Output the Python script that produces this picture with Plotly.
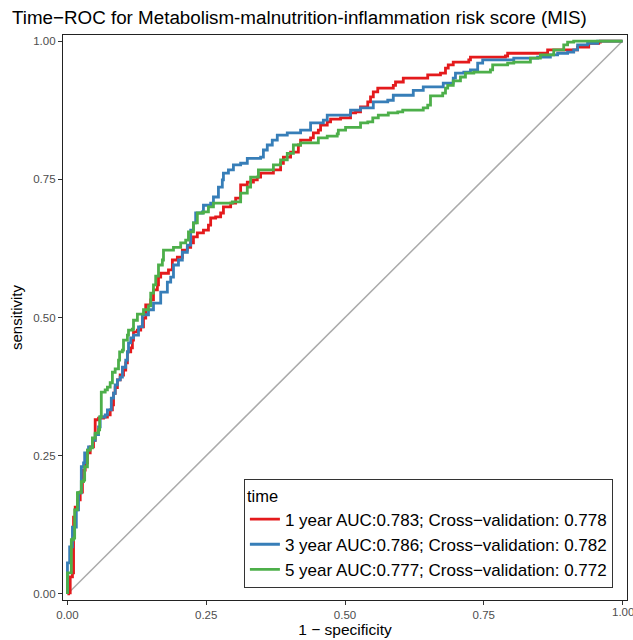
import plotly.graph_objects as go

# ---- data ----
labels = [
    "1 year AUC:0.783; Cross\u2212validation: 0.778",
    "3 year AUC:0.786; Cross\u2212validation: 0.782",
    "5 year AUC:0.777; Cross\u2212validation: 0.772",
]
colors = ["#E41A1C", "#377EB8", "#4DAF4A"]

fpr_1y = [0, .002, .005, .009, .011, .011, .014, .018, .023, .027,
          .027, .032, .036, .041, .047, .050, .056, .065, .072, .077,
          .081, .083, .086, .090, .095, .101, .105, .108, .114, .117,
          .119, .126, .132, .137, .141, .150, .155, .162, .164, .168,
          .182, .189, .198, .207, .216, .222, .227, .234, .245, .254,
          .258, .267, .276, .281, .294, .303, .312, .312, .321, .324,
          .335, .342, .348, .371, .384, .389, .402, .416, .420, .438,
          .443, .452, .456, .468, .474, .492, .510, .519, .528, .541,
          .546, .551, .559, .582, .587, .591, .604, .605, .645, .649,
          .672, .681, .686, .695, .723, .726, .789, .793, .861, .865,
          .915, .919, .937, .939, .957, .960, 1.0]
tpr_1y = [0, .002, .031, .038, .092, .139, .157, .170, .184, .193,
          .224, .237, .255, .266, .278, .315, .318, .320, .324, .333,
          .342, .363, .373, .387, .396, .405, .418, .438, .445, .459,
          .474, .477, .483, .499, .523, .532, .550, .559, .573, .580,
          .586, .604, .609, .622, .627, .635, .646, .653, .658, .667,
          .680, .682, .689, .700, .707, .716, .725, .740, .740, .745,
          .749, .754, .761, .767, .779, .790, .799, .812, .821, .825,
          .834, .839, .848, .854, .859, .861, .870, .872, .881, .890,
          .899, .908, .915, .915, .920, .926, .926, .933, .933, .939,
          .942, .951, .957, .962, .966, .971, .973, .978, .978, .984,
          .984, .989, .989, .996, .998, 1.0, 1.0]

fpr_3y = [0, 0, .004, .004, .009, .009, .016, .016, .020, .020,
          .025, .025, .029, .031, .036, .038, .045, .050, .056, .059,
          .068, .072, .077, .079, .083, .086, .090, .095, .099, .105,
          .108, .110, .114, .119, .128, .135, .146, .155, .168, .180,
          .186, .191, .200, .207, .216, .222, .227, .231, .243, .245,
          .258, .263, .272, .279, .281, .290, .299, .312, .324, .348,
          .353, .360, .369, .378, .396, .420, .438, .461, .468, .506,
          .510, .528, .551, .577, .587, .623, .641, .677, .695, .699,
          .714, .726, .739, .748, .793, .804, .847, .870, .883, .901,
          .912, .919, .937, .955, 1.0]
tpr_3y = [0, .056, .058, .085, .092, .121, .121, .152, .156, .183,
          .184, .230, .237, .255, .260, .266, .278, .288, .302, .320,
          .324, .333, .333, .354, .363, .378, .387, .392, .410, .423,
          .438, .454, .463, .468, .483, .505, .514, .526, .546, .564,
          .573, .595, .604, .618, .631, .658, .671, .689, .691, .703,
          .707, .718, .736, .749, .761, .767, .776, .779, .788, .790,
          .803, .812, .821, .830, .834, .839, .852, .857, .866, .866,
          .875, .879, .890, .893, .902, .911, .917, .924, .933, .942,
          .944, .948, .960, .966, .966, .969, .971, .975, .978, .980,
          .984, .993, .996, 1.0, 1.0]

fpr_5y = [0, 0, .005, .007, .011, .013, .018, .018, .023, .025,
          .029, .031, .036, .036, .041, .045, .050, .056, .058, .061,
          .061, .068, .072, .077, .081, .086, .092, .094, .099, .101,
          .108, .110, .117, .119, .126, .137, .146, .150, .155, .159,
          .164, .171, .173, .191, .204, .213, .218, .227, .234, .245,
          .254, .263, .297, .312, .324, .330, .344, .366, .371, .384,
          .396, .407, .420, .447, .452, .468, .486, .488, .501, .519,
          .528, .541, .550, .560, .578, .595, .604, .641, .649, .654,
          .676, .681, .685, .695, .708, .717, .732, .762, .766, .793,
          .804, .834, .852, .876, .894, .901, .912, 1.0]
tpr_5y = [0, .038, .038, .098, .101, .152, .156, .183, .184, .203,
          .206, .230, .233, .260, .264, .282, .291, .297, .320, .324,
          .365, .369, .374, .382, .401, .407, .423, .438, .441, .459,
          .468, .477, .479, .495, .506, .514, .521, .544, .559, .575,
          .595, .604, .622, .627, .635, .640, .655, .671, .689, .691,
          .700, .707, .709, .725, .736, .754, .767, .767, .776, .785,
          .797, .812, .816, .816, .825, .828, .832, .839, .844, .844,
          .852, .854, .861, .866, .870, .872, .875, .879, .884, .901,
          .906, .915, .920, .928, .935, .942, .944, .948, .957, .960,
          .962, .969, .975, .984, .993, .998, 1.0, 1.0]

diag = [0, 1]
ticks = [0, 0.25, 0.5, 0.75, 1.0]
tick_text = ["0.00", "0.25", "0.50", "0.75", "1.00"]

FONT = "Liberation Sans, Arial, sans-serif"
TICKFONT = dict(family=FONT, size=11.5, color="#4D4D4D")

fig = go.Figure()
fig.add_trace(go.Scatter(x=diag, y=diag, mode="lines",
                         line=dict(color="#ABABAB", width=1.5),
                         showlegend=False, hoverinfo="skip"))

series = [(fpr_1y, tpr_1y), (fpr_3y, tpr_3y), (fpr_5y, tpr_5y)]
for i, ((fx, ty), lab, col) in enumerate(zip(series, labels, colors)):
    fig.add_trace(go.Scatter(x=fx, y=ty, mode="lines", name=lab,
                             legendgroup=f"g{i}",
                             line=dict(color=col, width=2.8, shape="hv")))

axis_common = dict(
    showgrid=False, zeroline=False, automargin=False,
    showline=True, mirror=True, linecolor="#222222", linewidth=1.2,
    ticks="outside", ticklen=4, tickcolor="#333333", tickwidth=1,
    tickvals=ticks, tickfont=TICKFONT,
)

# the last x tick label sits on the page edge; plotly drops it, so it is
# written as an annotation at the same tick position
x_ticktext = tick_text[:-1] + [""]

fig.update_layout(
    width=633, height=640,
    margin=dict(l=63, r=6, t=35, b=40, autoexpand=False),
    paper_bgcolor="white", plot_bgcolor="white",
    font=dict(family=FONT, color="black"),
    title=dict(text="Time\u2212ROC for Metabolism-malnutrition-inflammation risk score (MIS)",
               x=12 / 633, xanchor="left", y=1 - 17 / 640, yanchor="middle",
               font=dict(family=FONT, size=18.8, color="black")),
    xaxis=dict(range=[-0.008, 1.008], ticktext=x_ticktext,
               title=dict(text="1 \u2212 specificity", font=dict(family=FONT, size=15.5), standoff=1),
               **axis_common),
    yaxis=dict(range=[-0.011, 1.011], ticktext=tick_text,
               title=dict(text="sensitivity", font=dict(family=FONT, size=15), standoff=6),
               **axis_common),
    legend=dict(
        x=0.975, y=0.021, xanchor="right", yanchor="bottom",
        bgcolor="white", bordercolor="#333333", borderwidth=1,
        title=dict(text="time", font=dict(family=FONT, size=16.5)),
        font=dict(family=FONT, size=17, color="black"),
        traceorder="grouped", tracegroupgap=0,
    ),
    annotations=[dict(x=ticks[-1], xref="x", y=0, yref="paper",
                      text=tick_text[-1], showarrow=False,
                      xanchor="center", yanchor="top", yshift=-4,
                      font=TICKFONT)],
)

fig.write_html(
    "out.html",
    config={"displayModeBar": False},
    post_script="document.body.style.margin='0';document.body.style.padding='0';",
)
